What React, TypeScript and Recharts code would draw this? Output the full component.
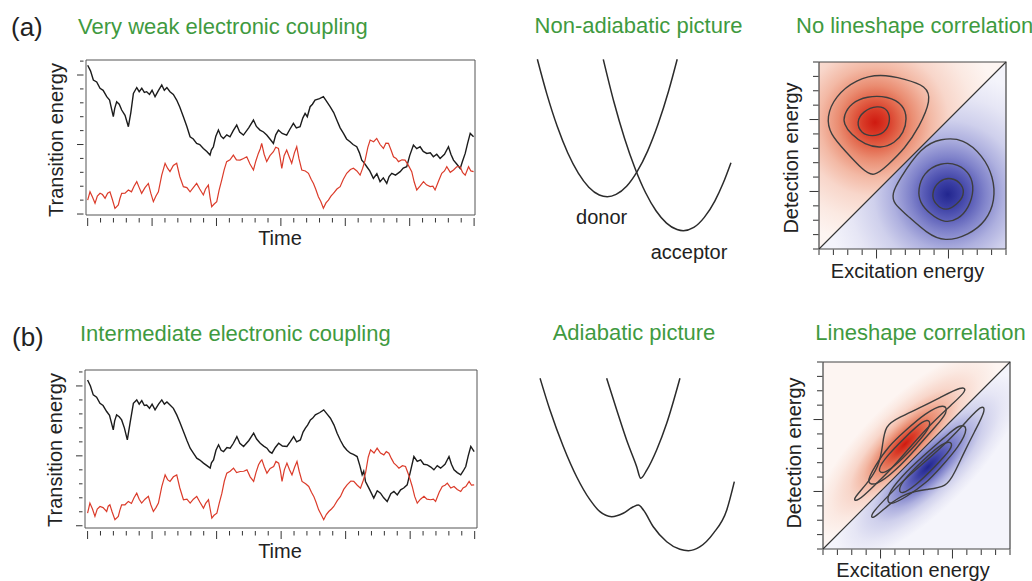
import React from 'react';
import { ComposedChart, Line, Area, XAxis, YAxis, ReferenceArea, ReferenceLine } from 'recharts';

type Pt = [number, number];

const FONT = '"Liberation Sans", Arial, Helvetica, sans-serif';
const GREEN = '#3f9a3f';
const INK = '#222';

// ---- (a) very weak coupling: time traces [time, transition energy] ----
const weakBlack: Pt[] = [
  [0, 10.7], [0.22, 10.3], [0.44, 9.64], [0.7, 9.5], [0.96, 9.04], [1.2, 8.9], [1.48, 8.44], [1.7, 8.2], [1.99, 7.0],
  [2.1, 7.6], [2.25, 8.08], [2.45, 7.9], [2.64, 7.48], [2.9, 7.1], [3.16, 6.28], [3.35, 7.3], [3.55, 8.68], [3.81, 9.1],
  [4.0, 8.8], [4.2, 9.05], [4.4, 8.75], [4.58, 8.8], [4.8, 8.6], [5.0, 8.9], [5.23, 8.44], [5.5, 8.9], [5.75, 9.28],
  [5.95, 8.9], [6.15, 9.1], [6.39, 8.8], [6.65, 8.6], [6.91, 8.2], [7.15, 7.7], [7.43, 7.0], [7.7, 6.3], [7.95, 5.56],
  [8.2, 5.4], [8.46, 5.08], [8.7, 5.0], [8.98, 4.72], [9.25, 4.5], [9.5, 4.24], [9.6, 4.6], [9.76, 4.84], [9.95, 5.6],
  [10.15, 6.04], [10.35, 5.6], [10.54, 5.44], [10.8, 5.7], [11.05, 5.56], [11.3, 6.0], [11.57, 6.4], [11.8, 5.9],
  [12.09, 5.68], [12.5, 6.2], [12.87, 6.76], [13.1, 6.3], [13.38, 6.04], [13.65, 5.9], [13.9, 5.68], [14.15, 5.4],
  [14.42, 5.08], [14.6, 5.7], [14.81, 6.04], [15.1, 5.8], [15.45, 5.68], [15.7, 6.1], [15.97, 6.52], [16.2, 6.2],
  [16.49, 6.28], [16.7, 6.9], [16.88, 7.24], [17.05, 7.0], [17.27, 7.72], [17.45, 7.9], [17.65, 8.2], [18.0, 8.3],
  [18.3, 8.44], [18.55, 8.1], [18.82, 7.72], [19.1, 7.3], [19.34, 6.76], [19.6, 6.2], [19.86, 5.8], [20.1, 5.4],
  [20.37, 5.2], [20.6, 5.0], [20.89, 4.84], [21.1, 4.4], [21.28, 3.88], [21.45, 3.7], [21.67, 3.4], [21.9, 3.1],
  [22.18, 2.57], [22.45, 2.9], [22.7, 2.33], [22.95, 2.6], [23.22, 2.2], [23.4, 2.7], [23.61, 2.93], [23.9, 2.8],
  [24.26, 3.05], [24.5, 3.3], [24.77, 3.4], [25.0, 4.2], [25.29, 4.96], [25.55, 4.7], [25.81, 4.84], [26.05, 4.5],
  [26.33, 4.36], [26.6, 4.4], [26.84, 4.12], [27.1, 4.3], [27.36, 4.0], [27.7, 4.3], [28.01, 4.84], [28.2, 4.3],
  [28.4, 3.88], [28.65, 3.6], [28.92, 3.28], [29.1, 3.8], [29.31, 4.36], [29.5, 5.1], [29.7, 5.8], [29.96, 5.56],
];
const weakRed: Pt[] = [
  [0, 1.0], [0.18, 1.6], [0.38, 1.2], [0.57, 0.77], [0.75, 1.3], [0.96, 1.49], [1.15, 1.4], [1.35, 1.13], [1.55, 1.5],
  [1.73, 1.6], [1.9, 1.1], [2.12, 0.41], [2.38, 0.65], [2.5, 1.1], [2.64, 1.49], [2.9, 1.5], [3.16, 1.73], [3.4, 1.6],
  [3.6, 2.0], [3.81, 2.33], [4.0, 1.9], [4.19, 1.49], [4.45, 1.9], [4.71, 2.2], [4.9, 1.5], [5.1, 0.89], [5.3, 1.3],
  [5.49, 1.6], [5.75, 2.8], [6.01, 3.65], [6.2, 3.3], [6.39, 3.05], [6.65, 3.5], [6.91, 3.65], [7.15, 2.7], [7.43, 1.97],
  [7.7, 1.9], [7.95, 1.6], [8.2, 1.9], [8.46, 2.2], [8.7, 1.8], [8.98, 1.37], [9.15, 1.8], [9.37, 2.08], [9.5, 1.2],
  [9.63, 0.53], [9.8, 0.7], [10.02, 0.89], [10.2, 1.7], [10.41, 2.45], [10.6, 3.2], [10.79, 3.77], [11.05, 3.9],
  [11.31, 4.24], [11.55, 3.9], [11.83, 3.88], [12.1, 4.0], [12.35, 4.12], [12.6, 3.6], [12.87, 3.17], [13.05, 3.8],
  [13.25, 4.36], [13.4, 4.7], [13.51, 5.08], [13.7, 4.3], [13.9, 3.77], [14.15, 4.2], [14.42, 4.48], [14.6, 4.8],
  [14.81, 4.72], [14.95, 4.0], [15.07, 3.29], [15.25, 4.2], [15.45, 4.6], [15.65, 4.1], [15.84, 3.65], [16.05, 4.4],
  [16.23, 4.84], [16.4, 4.0], [16.62, 3.17], [16.9, 3.1], [17.14, 2.93], [17.35, 2.5], [17.53, 2.2], [17.7, 1.8],
  [17.91, 1.25], [18.1, 0.9], [18.3, 0.41], [18.5, 0.8], [18.69, 1.0], [18.9, 1.3], [19.08, 1.49], [19.35, 1.8],
  [19.6, 1.97], [19.85, 2.5], [20.11, 2.93], [20.4, 3.2], [20.63, 3.29], [20.9, 3.1], [21.15, 2.8], [21.35, 3.3],
  [21.54, 3.88], [21.75, 4.8], [21.93, 5.32], [22.2, 5.2], [22.44, 5.44], [22.7, 5.0], [22.96, 4.72], [23.15, 5.1],
  [23.35, 5.08], [23.55, 4.6], [23.74, 4.12], [23.95, 4.0], [24.13, 3.77], [24.4, 3.9], [24.64, 3.88], [24.9, 3.5],
  [25.16, 3.05], [25.35, 2.3], [25.55, 1.73], [25.8, 2.0], [26.07, 2.33], [26.3, 2.1], [26.59, 1.97], [26.8, 2.0],
  [26.97, 1.73], [27.25, 2.4], [27.49, 2.93], [27.7, 3.1], [27.88, 3.4], [28.15, 3.0], [28.4, 3.17], [28.65, 3.4],
  [28.92, 3.4], [29.1, 3.0], [29.31, 2.8], [29.57, 3.4], [29.75, 3.1], [29.96, 3.05],
];

// ---- (b) intermediate coupling ----
const midBlack: Pt[] = [
  [0, 10.43], [0.22, 10.0], [0.44, 9.36], [0.7, 9.2], [0.96, 8.76], [1.2, 8.6], [1.48, 8.17], [1.7, 7.9], [1.99, 6.86],
  [2.1, 7.5], [2.25, 7.93], [2.45, 7.8], [2.64, 7.57], [2.85, 7.0], [3.08, 6.14], [3.3, 7.4], [3.55, 8.76], [3.81, 9.0],
  [4.0, 8.7], [4.2, 8.95], [4.4, 8.6], [4.58, 8.64], [4.8, 8.4], [5.0, 8.7], [5.23, 8.29], [5.5, 8.7], [5.75, 9.0],
  [5.95, 8.7], [6.15, 8.85], [6.39, 8.64], [6.65, 8.4], [6.91, 7.93], [7.15, 7.4], [7.43, 6.74], [7.7, 6.1], [7.95, 5.55],
  [8.2, 5.2], [8.46, 4.83], [8.7, 4.7], [8.98, 4.48], [9.25, 4.3], [9.5, 4.12], [9.6, 4.5], [9.76, 4.71], [9.95, 5.4],
  [10.15, 5.79], [10.35, 5.4], [10.54, 5.31], [10.8, 5.6], [11.05, 5.55], [11.3, 5.9], [11.57, 6.38], [11.8, 5.9],
  [12.09, 5.67], [12.5, 6.1], [12.87, 6.62], [13.1, 6.2], [13.38, 5.9], [13.65, 5.7], [13.9, 5.55], [14.1, 5.3],
  [14.29, 5.19], [14.55, 5.6], [14.81, 5.9], [15.1, 5.7], [15.45, 5.67], [15.7, 6.0], [15.97, 6.38], [16.2, 6.0],
  [16.49, 6.14], [16.7, 6.7], [16.88, 6.98], [17.05, 7.2], [17.27, 7.57], [17.45, 7.7], [17.65, 7.93], [18.0, 8.1],
  [18.3, 8.29], [18.55, 8.0], [18.82, 7.69], [19.1, 7.2], [19.34, 6.62], [19.6, 6.1], [19.86, 5.67], [20.1, 5.4],
  [20.37, 5.19], [20.6, 5.1], [20.89, 4.95], [21.1, 4.3], [21.28, 3.64], [21.4, 3.9], [21.54, 3.17], [21.85, 2.6],
  [22.18, 1.98], [22.45, 2.5], [22.7, 2.33], [22.95, 2.0], [23.22, 1.74], [23.5, 2.3], [23.74, 2.45], [24.0, 2.2],
  [24.26, 2.57], [24.5, 2.7], [24.77, 2.93], [25.0, 3.8], [25.29, 4.95], [25.55, 4.6], [25.81, 4.71], [26.05, 4.4],
  [26.33, 4.36], [26.6, 4.2], [26.84, 4.0], [27.1, 4.3], [27.36, 4.12], [27.7, 4.4], [28.01, 4.95], [28.2, 4.4],
  [28.4, 4.0], [28.65, 3.8], [28.92, 3.64], [29.1, 3.9], [29.31, 4.24], [29.5, 5.0], [29.7, 5.67], [29.96, 5.31],
];
const midRed: Pt[] = [
  [0, 0.9], [0.18, 1.62], [0.38, 1.2], [0.57, 0.67], [0.75, 1.2], [0.96, 1.38], [1.2, 1.3], [1.48, 1.02], [1.6, 1.4],
  [1.73, 1.5], [1.9, 1.0], [2.12, 0.43], [2.38, 0.67], [2.5, 1.1], [2.64, 1.5], [2.9, 1.5], [3.16, 1.74], [3.4, 1.6],
  [3.6, 2.0], [3.81, 2.33], [4.0, 1.9], [4.19, 1.62], [4.45, 1.9], [4.71, 2.1], [4.9, 1.5], [5.1, 1.02], [5.3, 1.3],
  [5.49, 1.62], [5.75, 2.8], [6.01, 3.64], [6.2, 3.3], [6.39, 3.17], [6.65, 3.5], [6.91, 3.64], [7.15, 2.7], [7.43, 1.86],
  [7.7, 1.9], [7.95, 1.62], [8.2, 1.9], [8.46, 2.1], [8.7, 1.7], [8.98, 1.26], [9.15, 1.6], [9.37, 1.86], [9.5, 1.2],
  [9.63, 0.55], [9.8, 0.75], [10.02, 0.9], [10.2, 1.6], [10.41, 2.33], [10.6, 3.2], [10.79, 3.76], [11.05, 3.9],
  [11.31, 4.12], [11.55, 3.8], [11.83, 3.88], [12.1, 3.9], [12.35, 4.0], [12.6, 3.5], [12.87, 3.17], [13.05, 3.8],
  [13.25, 4.36], [13.4, 4.6], [13.51, 4.71], [13.7, 4.2], [13.9, 3.76], [14.15, 4.1], [14.42, 4.24], [14.6, 4.6],
  [14.81, 4.48], [14.95, 3.9], [15.07, 3.17], [15.25, 4.0], [15.45, 4.48], [15.65, 4.0], [15.84, 3.64], [16.05, 4.2],
  [16.23, 4.6], [16.4, 3.9], [16.62, 3.17], [16.9, 3.0], [17.14, 2.81], [17.35, 2.4], [17.53, 2.1], [17.7, 1.7],
  [17.91, 1.14], [18.1, 0.8], [18.3, 0.43], [18.5, 0.8], [18.69, 1.02], [18.9, 1.2], [19.08, 1.38], [19.35, 1.8],
  [19.6, 2.1], [19.85, 2.6], [20.11, 2.93], [20.4, 3.2], [20.63, 3.17], [20.9, 2.9], [21.15, 2.69], [21.35, 3.2],
  [21.54, 3.76], [21.75, 4.9], [21.93, 5.43], [22.2, 5.2], [22.44, 5.55], [22.7, 5.2], [22.96, 5.07], [23.15, 5.3],
  [23.35, 5.19], [23.55, 4.8], [23.74, 4.48], [23.95, 4.3], [24.13, 4.12], [24.4, 4.3], [24.64, 4.24], [24.9, 3.6],
  [25.16, 2.81], [25.35, 2.1], [25.55, 1.62], [25.8, 1.9], [26.07, 2.1], [26.3, 1.9], [26.59, 1.86], [26.8, 1.9],
  [26.97, 1.74], [27.25, 2.4], [27.49, 2.81], [27.7, 2.9], [27.88, 3.05], [28.15, 2.7], [28.4, 2.81], [28.65, 2.6],
  [28.92, 2.45], [29.1, 2.7], [29.31, 2.81], [29.57, 3.17], [29.75, 2.9], [29.96, 2.93],
];

const timeTicks = [0, 1, 2, 3, 4, 5, 6, 7, 8, 9, 10, 11, 12, 13, 14, 15, 16, 17, 18, 19, 20, 21, 22, 23, 24, 25, 26, 27, 28, 29, 30];
const energyTicks = [0, 1, 2, 3, 4, 5, 6, 7, 8, 9, 10, 11];
const specTicks = [-4, -3, -2, -1, 0, 1, 2, 3, 4, 5, 6, 7, 8, 9];

// ---- potential energy curves [nuclear coordinate, energy] ----
const donorCurve: Pt[] = [
  [0.35, 9.51], [0.8, 7.69], [1.3, 5.97], [1.8, 4.58], [2.3, 3.52], [2.8, 2.78], [3.3, 2.37], [3.68, 2.28],
  [4.1, 2.4], [4.6, 2.83], [5.1, 3.6], [5.6, 4.68], [6.1, 6.1], [6.6, 7.84], [7.01, 9.51],
];
const acceptorCurve: Pt[] = [
  [3.49, 9.51], [4.0, 7.25], [4.5, 5.36], [5.0, 3.78], [5.5, 2.5], [6.0, 1.54], [6.5, 0.89], [7.0, 0.55], [7.3, 0.49],
  [7.8, 0.66], [8.3, 1.19], [8.8, 2.05], [9.2, 3.0], [9.57, 4.07],
];
const upperAdiabat: Pt[] = [
  [3.65, 9.51], [4.13, 7.84], [4.6, 6.26], [5.08, 4.86], [5.27, 4.25], [5.56, 4.68], [6.03, 5.74], [6.51, 7.14], [7.14, 9.51],
];
const lowerAdiabat: Pt[] = [
  [0.48, 9.51], [0.95, 7.84], [1.59, 5.91], [2.22, 4.33], [2.86, 3.11], [3.33, 2.49], [3.89, 2.23], [4.44, 2.41],
  [4.92, 2.75], [5.16, 2.84], [5.4, 2.58], [5.87, 1.7], [6.51, 0.91], [7.14, 0.51], [7.54, 0.44], [8.1, 0.65],
  [8.73, 1.35], [9.37, 2.58], [9.73, 4.07],
];

// ---- 2D spectra contours [excitation, detection] ----
const weakRedContours: Pt[][] = [
  [[-1.4, 4.81], [-0.97, 5.57], [0.07, 6.0], [0.84, 5.7], [0.96, 4.81], [0.57, 4.05], [-0.32, 3.8], [-1.09, 4.05]],
  [[-2.28, 5.29], [-1.78, 6.14], [-0.68, 6.63], [0.79, 6.63], [1.89, 6.02], [2.13, 5.05], [1.89, 4.09], [1.27, 3.36],
    [0.3, 2.99], [-0.81, 3.25], [-1.78, 3.97], [-2.28, 4.7]],
  [[-3.48, 5.18], [-2.88, 6.62], [-1.41, 7.81], [0.28, 8.18], [1.99, 7.81], [3.45, 7.34], [3.81, 6.38], [2.96, 4.46],
    [1.99, 3.02], [0.77, 1.82], [-0.21, 0.99], [-0.93, 1.47], [-2.15, 2.78], [-3.24, 3.99]],
];
const weakBlueContours: Pt[][] = [
  [[3.8, -0.13], [4.31, 0.76], [5.21, 1.01], [5.98, 0.5], [6.11, -0.27], [5.6, -0.89], [4.83, -1.4], [4.05, -0.89]],
  [[2.88, 0.1], [3.24, 1.3], [4.46, 2.03], [5.69, 1.92], [6.55, 1.19], [6.79, 0.1], [6.43, -1.11], [5.69, -1.96],
    [4.71, -2.2], [3.73, -1.59], [2.99, -0.76]],
  [[1.07, -0.15], [1.56, 0.81], [3.12, 3.12], [4.47, 3.69], [6.05, 3.69], [7.39, 2.48], [8.12, 1.05], [8.25, -0.63],
    [7.63, -2.06], [6.42, -3.02], [4.72, -3.51], [3.5, -2.91], [2.05, -1.58], [1.2, -0.87]],
];
const corrRedContours: Pt[][] = [
  [[-0.3, 1.4], [0.5, 2.55], [1.7, 3.75], [3.0, 5.0], [3.5, 4.95], [3.35, 4.3], [2.4, 3.2], [1.25, 2.0], [0.25, 1.2]],
  [[-1.05, 0.55], [-0.4, 1.75], [0.55, 3.15], [1.7, 4.2], [3.1, 5.45], [4.5, 6.15], [4.7, 5.5], [3.8, 4.5],
    [2.45, 2.95], [1.05, 1.45], [-0.3, 0.4]],
  [[-2.0, -0.6], [-1.0, 0.45], [-0.1, 1.75], [0.15, 3.2], [0.3, 4.6], [1.3, 5.15], [2.7, 5.8], [4.1, 6.5],
    [5.7, 7.35], [6.05, 7.05], [4.95, 6.05], [3.55, 4.75], [2.15, 3.2], [0.8, 1.6], [-0.65, 0.2], [-1.6, -0.7]],
];
const corrBlueContours: Pt[][] = [
  [[1.4, -0.3], [2.55, 0.5], [3.75, 1.7], [5.0, 3.0], [4.95, 3.5], [4.3, 3.35], [3.2, 2.4], [2.0, 1.25], [1.2, 0.25]],
  [[0.55, -1.05], [1.75, -0.4], [3.15, 0.55], [4.2, 1.7], [5.45, 3.1], [6.15, 4.5], [5.5, 4.7], [4.5, 3.8],
    [2.95, 2.45], [1.45, 1.05], [0.4, -0.3]],
  [[-0.6, -2.0], [0.45, -1.0], [1.75, -0.1], [3.2, 0.15], [4.6, 0.3], [5.15, 1.3], [5.8, 2.7], [6.5, 4.1],
    [7.35, 5.7], [7.05, 6.05], [6.05, 4.95], [4.75, 3.55], [3.2, 2.15], [1.6, 0.8], [0.2, -0.65], [-0.7, -1.6]],
];
// peak positions of the two signals
const weakPeaks: { red: Pt; blue: Pt } = { red: [-0.1, 4.8], blue: [4.95, -0.2] };
const corrPeaks: { red: Pt; blue: Pt } = { red: [1.7, 3.3], blue: [3.3, 1.7] };

const upperHalf = [{ x: -4, band: [-4, 9] }, { x: 9, band: [9, 9] }];
const lowerHalf = [{ x: -4, band: [-4, -4] }, { x: 9, band: [-4, 9] }];

const RED_STOPS: [number, string][] = [
  [0, '#cf1a10'], [0.1, '#d93a27'], [0.2, '#e2654a'], [0.3, '#ea8d72'], [0.45, '#f3b9a5'], [0.6, '#f8d6ca'], [0.8, '#fbe9e2'], [1, '#fdf5f2'],
];
const BLUE_STOPS: [number, string][] = [
  [0, '#22268f'], [0.1, '#3a3ea3'], [0.2, '#5b5eb8'], [0.3, '#7f82ca'], [0.45, '#aeb0df'], [0.6, '#cfd0ec'], [0.8, '#e6e6f5'], [1, '#f4f4fb'],
];

const toXY = (pts: Pt[]) => pts.map(([x, y]) => ({ x, y }));

function XTick(props: any) {
  const { x, y, payload, gap, minor, major } = props;
  const big = payload.value % 5 === 0;
  return <line x1={x} x2={x} y1={y + gap} y2={y + gap + (big ? major : minor)} stroke="#333" strokeWidth={1} />;
}
function YTick(props: any) {
  const { x, y, payload, gap, minor, major } = props;
  const big = payload.value % 5 === 0;
  return <line x1={x - gap} x2={x - gap - (big ? major : minor)} y1={y} y2={y} stroke="#333" strokeWidth={1} />;
}

function Txt({ x, y, size, color = INK, center = false, children }: any) {
  return (
    <div style={{
      position: 'absolute', left: x, top: y - 0.8465 * size, fontSize: size, lineHeight: 1, color,
      whiteSpace: 'nowrap', transform: center ? 'translateX(-50%)' : undefined,
    }}>{children}</div>
  );
}
function VTxt({ x, y, size, children }: any) {
  return (
    <div style={{
      position: 'absolute', left: x, top: y, fontSize: size, lineHeight: 1, color: INK, whiteSpace: 'nowrap',
      transform: 'translate(-50%, -50%) rotate(-90deg)',
    }}>{children}</div>
  );
}

function TimeTrace({ plotLeft, plotTop, w, h, xDomain, yDomain, black, red }: any) {
  return (
    <div style={{ position: 'absolute', left: plotLeft - 86, top: plotTop - 60 }}>
      <ComposedChart width={86 + w + 15} height={60 + h + 25} margin={{ top: 60, right: 15, bottom: 0, left: 56 }}>
        <XAxis type="number" dataKey="x" domain={xDomain} ticks={timeTicks} interval={0} allowDataOverflow
          axisLine={false} tickLine={false} tickSize={0} tickMargin={0} height={25}
          tick={(p: any) => <XTick {...p} gap={3} minor={4.5} major={8} />} />
        <YAxis type="number" domain={yDomain} ticks={energyTicks} interval={0} allowDataOverflow
          axisLine={false} tickLine={false} tickSize={0} tickMargin={0} width={30}
          tick={(p: any) => <YTick {...p} gap={2.5} minor={3.5} major={6.5} />} />
        <Line data={toXY(black)} dataKey="y" type="linear" stroke="#1c1c1c" strokeWidth={1.4} dot={false} isAnimationActive={false} />
        <Line data={toXY(red)} dataKey="y" type="linear" stroke="#db3b2a" strokeWidth={1.2} dot={false} isAnimationActive={false} />
        <ReferenceArea x1={xDomain[0]} x2={xDomain[1]} y1={yDomain[0]} y2={yDomain[1]} fill="none" stroke="#555" strokeWidth={1} ifOverflow="visible" />
      </ComposedChart>
    </div>
  );
}

function Curves({ left, top, curves }: { left: number; top: number; curves: Pt[][] }) {
  return (
    <div style={{ position: 'absolute', left, top }}>
      <ComposedChart width={210} height={190} margin={{ top: 0, right: 0, bottom: 0, left: 0 }}>
        <XAxis type="number" dataKey="x" domain={[0, 10]} hide allowDataOverflow />
        <YAxis type="number" domain={[0, 10]} hide allowDataOverflow />
        {curves.map((c, i) => (
          <Line key={i} data={toXY(c)} dataKey="y" type="monotone" stroke="#2b2b2b" strokeWidth={1.5} dot={false} isAnimationActive={false} />
        ))}
      </ComposedChart>
    </div>
  );
}

function Spectrum({ plotLeft, plotTop, uid, peaks, radius, stretch, red, blue }: any) {
  const lo = specTicks[0];
  const hi = specTicks[specTicks.length - 1];
  const frac = ([x, y]: Pt) => [(x - lo) / (hi - lo), (hi - y) / (hi - lo)];
  const [rcx, rcy] = frac(peaks.red);
  const [bcx, bcy] = frac(peaks.blue);
  const tf = (cx: number, cy: number) =>
    stretch ? `translate(${cx} ${cy}) rotate(-45) scale(1 ${stretch}) translate(${-cx} ${-cy})` : undefined;
  return (
    <div style={{ position: 'absolute', left: plotLeft - 63, top: plotTop - 62 }}>
      <ComposedChart width={272} height={281} margin={{ top: 62, right: 22, bottom: 12, left: 43 }}>
        <defs>
          <radialGradient id={`${uid}-red`} cx={rcx} cy={rcy} r={radius} gradientTransform={tf(rcx, rcy)}>
            {RED_STOPS.map(([o, c]) => <stop key={o} offset={o} stopColor={c} />)}
          </radialGradient>
          <radialGradient id={`${uid}-blue`} cx={bcx} cy={bcy} r={radius} gradientTransform={tf(bcx, bcy)}>
            {BLUE_STOPS.map(([o, c]) => <stop key={o} offset={o} stopColor={c} />)}
          </radialGradient>
        </defs>
        <XAxis type="number" dataKey="x" domain={[lo, hi]} ticks={specTicks} interval={0} allowDataOverflow
          axisLine={false} tickLine={false} tickSize={0} tickMargin={0} height={20}
          tick={(p: any) => <XTick {...p} gap={0.5} minor={5.5} major={9} />} />
        <YAxis type="number" domain={[lo, hi]} ticks={specTicks} interval={0} allowDataOverflow
          axisLine={false} tickLine={false} tickSize={0} tickMargin={0} width={20}
          tick={(p: any) => <YTick {...p} gap={0.5} minor={5.5} major={9} />} />
        <Area data={upperHalf} dataKey="band" type="linear" stroke="none" fill={`url(#${uid}-red)`} fillOpacity={1} isAnimationActive={false} />
        <Area data={lowerHalf} dataKey="band" type="linear" stroke="none" fill={`url(#${uid}-blue)`} fillOpacity={1} isAnimationActive={false} />
        {[...red, ...blue].map((c: Pt[], i: number) => (
          <Line key={i} data={toXY(c)} dataKey="y" type="basisClosed" stroke="#3e3e3e" strokeWidth={1.4} dot={false} isAnimationActive={false} />
        ))}
        <ReferenceLine segment={[{ x: lo, y: lo }, { x: hi, y: hi }]} stroke="#333" strokeWidth={1.1} />
        <ReferenceArea x1={lo} x2={hi} y1={lo} y2={hi} fill="none" stroke="#444" strokeWidth={1.2} ifOverflow="visible" />
      </ComposedChart>
    </div>
  );
}

export default function App() {
  return (
    <div style={{ position: 'absolute', left: 0, top: 0, width: 1032, height: 581, overflow: 'hidden', background: '#fff', fontFamily: FONT }}>
      {/* row (a) */}
      <Txt x={11} y={36} size={26}>(a)</Txt>
      <Txt x={78} y={35} size={22} color={GREEN}>Very weak electronic coupling</Txt>
      <Txt x={638.5} y={34} size={22} color={GREEN} center>Non-adiabatic picture</Txt>
      <Txt x={796} y={34} size={22} color={GREEN}>No lineshape correlation</Txt>

      <TimeTrace plotLeft={86} plotTop={60} w={389} h={155} xDomain={[-0.13, 30.07]} yDomain={[-0.07, 11.08]} black={weakBlack} red={weakRed} />
      <VTxt x={55.6} y={140} size={20}>Transition energy</VTxt>
      <Txt x={280} y={245} size={20} center>Time</Txt>

      <Curves left={530} top={50} curves={[donorCurve, acceptorCurve]} />
      <Txt x={601.7} y={224} size={20} center>donor</Txt>
      <Txt x={689} y={259} size={20} center>acceptor</Txt>

      <Spectrum plotLeft={819} plotTop={62} uid="weak" peaks={weakPeaks} radius={0.66} stretch={0} red={weakRedContours} blue={weakBlueContours} />
      <VTxt x={790.6} y={158} size={20}>Detection energy</VTxt>
      <Txt x={907.5} y={278} size={20} center>Excitation energy</Txt>

      {/* row (b) */}
      <Txt x={12} y={346} size={26}>(b)</Txt>
      <Txt x={80} y={341.5} size={22} color={GREEN}>Intermediate electronic coupling</Txt>
      <Txt x={634} y={341} size={22} color={GREEN} center>Adiabatic picture</Txt>
      <Txt x={920.5} y={340.5} size={22} color={GREEN} center>Lineshape correlation</Txt>

      <TimeTrace plotLeft={85} plotTop={370} w={392} h={158} xDomain={[-0.2, 30.18]} yDomain={[-0.16, 11.14]} black={midBlack} red={midRed} />
      <VTxt x={55} y={450} size={20}>Transition energy</VTxt>
      <Txt x={280} y={558} size={20} center>Time</Txt>

      <Curves left={530} top={369} curves={[upperAdiabat, lowerAdiabat]} />

      <Spectrum plotLeft={823} plotTop={362} uid="corr" peaks={corrPeaks} radius={0.66} stretch={0.34} red={corrRedContours} blue={corrBlueContours} />
      <VTxt x={794} y={453} size={20}>Detection energy</VTxt>
      <Txt x={913} y={577} size={20} center>Excitation energy</Txt>
    </div>
  );
}
